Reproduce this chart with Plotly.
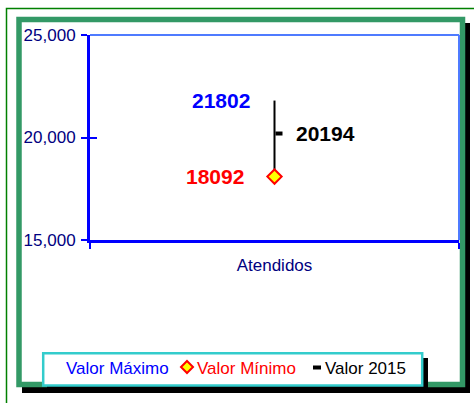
import plotly.graph_objects as go

# ---- data ----
categories = ["Atendidos"]
valor_maximo = [21802]
valor_minimo = [18092]
valor_2015 = [20194]
y_tick_values = [15000, 20000, 25000]
legend_labels = ["Valor Máximo", "Valor Mínimo", "Valor 2015"]

W, H = 474, 403
L, R, T, B = 90, 15, 35, 163
PW, PH = W - L - R, H - T - B
FONT = "Arial, Liberation Sans, sans-serif"


def px(x):
    return (x - L) / PW


def py(y):
    return (H - B - y) / PH


fig = go.Figure()

# high-low line (max to min)
fig.add_trace(go.Scatter(
    x=[categories[0], categories[0]], y=[valor_maximo[0], valor_minimo[0]],
    mode="lines", line=dict(color="black", width=2),
    name="Rango", showlegend=False, hoverinfo="skip"))

# min marker
fig.add_trace(go.Scatter(
    x=categories, y=valor_minimo, mode="markers",
    marker=dict(symbol="diamond", size=11, color="#ffff00",
                line=dict(color="#ff0000", width=2)),
    name=legend_labels[1], showlegend=False))

# max (invisible marker, label only)
fig.add_trace(go.Scatter(
    x=categories, y=valor_maximo, mode="markers",
    marker=dict(size=1, color="rgba(0,0,0,0)"),
    name=legend_labels[0], showlegend=False))

shapes = []
# outer thin green border
shapes.append(dict(type="rect", xref="paper", yref="paper",
                   x0=px(6.5), x1=px(490), y0=py(8.5), y1=py(420),
                   line=dict(color="#008000", width=1.5), layer="below"))
# frame shadow
shapes.append(dict(type="rect", xref="paper", yref="paper",
                   x0=px(22), x1=px(470), y0=py(23), y1=py(393),
                   fillcolor="black", line=dict(width=0), layer="below"))
# frame
shapes.append(dict(type="rect", xref="paper", yref="paper",
                   x0=px(19), x1=px(462.5), y0=py(19.5), y1=py(384.5),
                   fillcolor="white", line=dict(color="#339966", width=5.5), layer="below"))
# plot area top/right light border
shapes.append(dict(type="line", xref="paper", yref="paper",
                   x0=0, x1=1, y0=1, y1=1,
                   line=dict(color="#4f7bff", width=2), layer="below"))
shapes.append(dict(type="line", xref="paper", yref="paper",
                   x0=1, x1=1, y0=0, y1=1,
                   line=dict(color="#4f7bff", width=2), layer="below"))
# 2015 tick (right side of the line)
shapes.append(dict(type="line", xref="x", yref="y", xsizemode="pixel",
                   xanchor=0, x0=1, x1=8,
                   y0=valor_2015[0], y1=valor_2015[0],
                   line=dict(color="black", width=4)))
# legend shadow + box
shapes.append(dict(type="rect", xref="paper", yref="paper",
                   x0=px(47), x1=px(428), y0=py(358), y1=py(392.5),
                   fillcolor="black", line=dict(width=0)))
shapes.append(dict(type="rect", xref="paper", yref="paper",
                   x0=px(43.2), x1=px(422.2), y0=py(353.2), y1=py(385.5),
                   fillcolor="white", line=dict(color="#33cccc", width=2.5)))
# legend symbols
dx, dy, r = 187, 367, 6
shapes.append(dict(type="path", xref="paper", yref="paper",
                   path=f"M {px(dx)},{py(dy-r)} L {px(dx+r)},{py(dy)} L {px(dx)},{py(dy+r)} L {px(dx-r)},{py(dy)} Z",
                   fillcolor="#ffff00", line=dict(color="#ff0000", width=2)))
shapes.append(dict(type="rect", xref="paper", yref="paper",
                   x0=px(313), x1=px(321), y0=py(365.5), y1=py(369.5),
                   fillcolor="black", line=dict(width=0)))

annotations = [
    dict(x=categories[0], y=valor_maximo[0], xref="x", yref="y", text=str(valor_maximo[0]),
         showarrow=False, xanchor="right", yanchor="middle", xshift=-23,
         font=dict(family=FONT, size=21, color="#0000ff", weight="bold")),
    dict(x=categories[0], y=valor_minimo[0], xref="x", yref="y", text=str(valor_minimo[0]),
         showarrow=False, xanchor="right", yanchor="middle", xshift=-29,
         font=dict(family=FONT, size=21, color="#ff0000", weight="bold")),
    dict(x=categories[0], y=valor_2015[0], xref="x", yref="y", text=str(valor_2015[0]),
         showarrow=False, xanchor="left", yanchor="middle", xshift=19,
         font=dict(family=FONT, size=21, color="#000000", weight="bold")),
    dict(x=px(64), y=py(368), xref="paper", yref="paper", text=legend_labels[0],
         showarrow=False, xanchor="left", yanchor="middle",
         font=dict(family=FONT, size=17, color="#0000ff")),
    dict(x=px(195), y=py(368), xref="paper", yref="paper", text=legend_labels[1],
         showarrow=False, xanchor="left", yanchor="middle",
         font=dict(family=FONT, size=17, color="#ff0000")),
    dict(x=px(323), y=py(368), xref="paper", yref="paper", text=legend_labels[2],
         showarrow=False, xanchor="left", yanchor="middle",
         font=dict(family=FONT, size=17, color="#000000")),
]

fig.update_layout(
    width=W, height=H,
    margin=dict(l=L, r=R, t=T, b=B, pad=0),
    paper_bgcolor="white", plot_bgcolor="rgba(0,0,0,0)",
    showlegend=False,
    shapes=shapes, annotations=annotations,
    xaxis=dict(type="category", categoryarray=categories, range=[-0.5, 0.5],
               showline=True, linecolor="#0000ff", linewidth=3,
               ticks="outside", ticklen=6, tickwidth=2, tickcolor="#0000ff",
               tickson="boundaries", showgrid=False, zeroline=False,
               ticklabelstandoff=8,
               tickfont=dict(family=FONT, size=17, color="#000080")),
    yaxis=dict(range=[15000, 25000], tickvals=y_tick_values, tickformat=",d",
               showline=True, linecolor="#0000ff", linewidth=3,
               ticks="outside", ticklen=6, tickwidth=2, tickcolor="#0000ff",
               showgrid=False, zeroline=False, ticklabelstandoff=2,
               tickfont=dict(family=FONT, size=17, color="#000080")),
    yaxis2=dict(overlaying="y", matches="y", anchor="x", side="left",
                tickvals=y_tick_values, ticks="inside", ticklen=7, tickwidth=2,
                tickcolor="#0000ff", showticklabels=False, showgrid=False,
                zeroline=False, showline=False),
)

# a hidden trace so yaxis2 draws
fig.add_trace(go.Scatter(x=categories, y=valor_2015, yaxis="y2", mode="markers",
                         marker=dict(size=1, color="rgba(0,0,0,0)"),
                         name=legend_labels[2], showlegend=False, hoverinfo="skip"))

fig.write_html("out.html", config={"displayModeBar": False},
               post_script="document.body.style.margin='0';document.body.style.overflow='hidden';")
